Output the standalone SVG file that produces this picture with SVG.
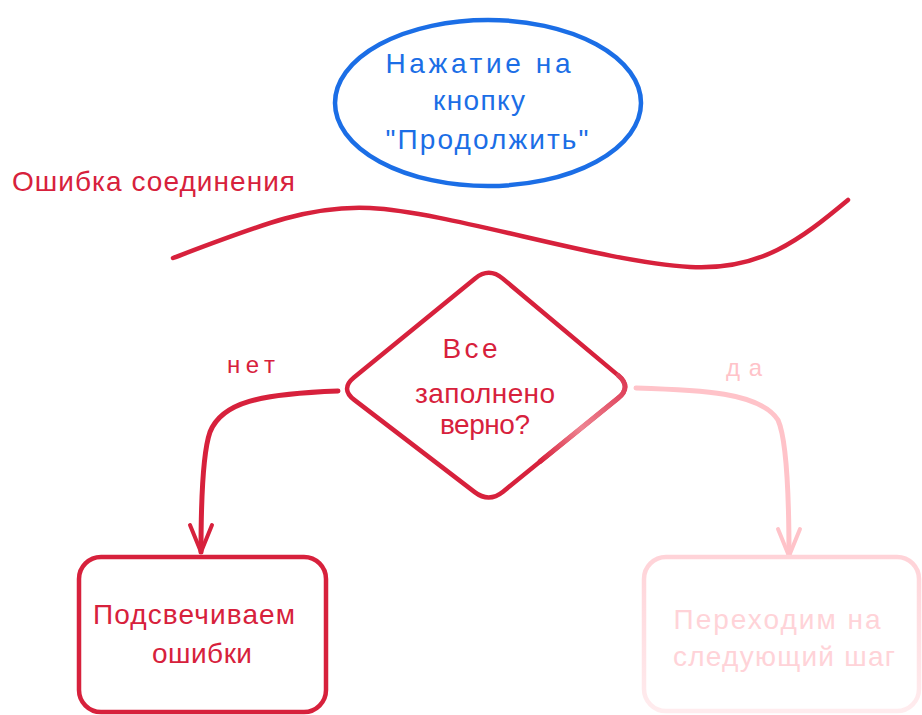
<svg xmlns="http://www.w3.org/2000/svg" width="922" height="715" viewBox="0 0 922 715">
<style>
.t{font-family:"Liberation Sans","Noto Sans",Arial,sans-serif;font-size:28px;text-anchor:middle}
.small{font-size:24px}
.blue{fill:#1b6ee6}
.red{fill:#d7213c}
.pink{fill:#ffc3c9}
.faint{fill:#ffd3d8}
.s{fill:none;stroke-linecap:round;stroke-linejoin:round}
</style>
<defs>
<marker id="ahRed" viewBox="-32 -16 36 32" markerWidth="36" markerHeight="32" refX="0" refY="0" markerUnits="userSpaceOnUse" orient="auto">
<path d="M-27,-11 L0,0 L-27,11" fill="none" stroke="#d7213c" stroke-width="4" stroke-linecap="round" stroke-linejoin="round"/>
</marker>
<marker id="ahPink" viewBox="-32 -16 36 32" markerWidth="36" markerHeight="32" refX="0" refY="0" markerUnits="userSpaceOnUse" orient="auto">
<path d="M-27,-11 L0,0 L-27,11" fill="none" stroke="#ffc3c9" stroke-width="4" stroke-linecap="round" stroke-linejoin="round"/>
</marker>
<linearGradient id="diaFade" gradientUnits="userSpaceOnUse" x1="630" y1="385" x2="540" y2="462">
<stop offset="0" stop-color="#dd3a55"/>
<stop offset="0.55" stop-color="#ee8592"/>
<stop offset="1" stop-color="#d7213c"/>
</linearGradient>
<linearGradient id="boxFade" x1="0" y1="0" x2="0" y2="1">
<stop offset="0" stop-color="#ffd3d8"/>
<stop offset="1" stop-color="#ffecee"/>
</linearGradient>
</defs>

<g id="start">
<ellipse cx="488" cy="103" rx="153" ry="83" class="s" stroke="#1b6ee6" stroke-width="4.5"/>
<text class="t blue" x="478" y="73" textLength="185" lengthAdjust="spacing">Нажатие на</text>
<text class="t blue" x="479" y="110" textLength="92" lengthAdjust="spacing">кнопку</text>
<text class="t blue" x="487" y="149" textLength="203" lengthAdjust="spacing">"Продолжить"</text>
</g>

<g id="error-label">
<text class="t red" x="12" y="191" style="text-anchor:start" textLength="283" lengthAdjust="spacing">Ошибка соединения</text>
</g>

<g id="wave">
<path class="s" stroke="#d7213c" stroke-width="4.5" d="M173,258 C260,225 310,205 370,208 C450,212 600,262 690,267 C760,271 800,240 848,200"/>
</g>

<g id="decision">
<path class="s" stroke="#d7213c" stroke-width="4.5" d="M475.1,278.4 Q489,267 502.8,278.6 L618.2,375.4 Q632,387 618,398.3 L503,491.7 Q489,503 474.7,492.1 L354.3,399.9 Q340,389 353.9,377.6 Z"/>
<path class="s" stroke="url(#diaFade)" stroke-width="5" d="M618.2,375.4 Q632,387 618,398.3 L540,461.5"/>
<text class="t red" x="470" y="358" textLength="55" lengthAdjust="spacing">Все</text>
<text class="t red" x="485" y="403" textLength="140" lengthAdjust="spacing">заполнено</text>
<text class="t red" x="485" y="434" textLength="90" lengthAdjust="spacing">верно?</text>
</g>

<g id="connectors">
<path class="s" stroke="#d7213c" stroke-width="5" marker-end="url(#ahRed)" d="M338,391 C260,394 222,402 210,432 C203,452 201,500 201,552"/>
<text class="t red small" x="251" y="373" textLength="48" lengthAdjust="spacing">нет</text>
<path class="s" stroke="#ffc3c9" stroke-width="5" marker-end="url(#ahPink)" d="M636,388 C700,390 760,392 778,420 C787,440 789,500 789,556"/>
<text class="t pink small" x="744" y="376" textLength="36" lengthAdjust="spacing">да</text>
</g>

<g id="highlight">
<rect x="79" y="557" width="247" height="155" rx="22" class="s" stroke="#d7213c" stroke-width="4.5"/>
<text class="t red" x="194" y="624" textLength="202" lengthAdjust="spacing">Подсвечиваем</text>
<text class="t red" x="202" y="663" textLength="100" lengthAdjust="spacing">ошибки</text>
</g>

<g id="next">
<rect x="644" y="557" width="275" height="154" rx="22" class="s" stroke="url(#boxFade)" stroke-width="4.5"/>
<text class="t faint" x="777" y="629" textLength="207" lengthAdjust="spacing">Переходим на</text>
<text class="t faint" x="784" y="666" textLength="222" lengthAdjust="spacing">следующий шаг</text>
</g>
</svg>
